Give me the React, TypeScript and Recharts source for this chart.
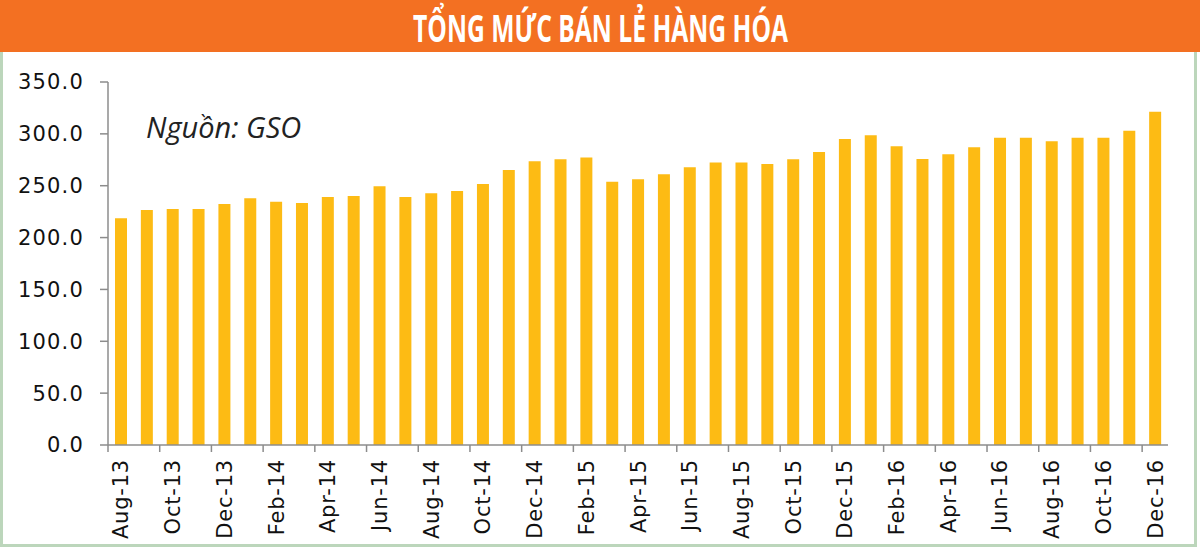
import { BarChart, Bar, XAxis, YAxis } from 'recharts';

const MONTHS = [
  'Aug-13', 'Sep-13', 'Oct-13', 'Nov-13', 'Dec-13',
  'Jan-14', 'Feb-14', 'Mar-14', 'Apr-14', 'May-14', 'Jun-14', 'Jul-14', 'Aug-14', 'Sep-14', 'Oct-14', 'Nov-14', 'Dec-14',
  'Jan-15', 'Feb-15', 'Mar-15', 'Apr-15', 'May-15', 'Jun-15', 'Jul-15', 'Aug-15', 'Sep-15', 'Oct-15', 'Nov-15', 'Dec-15',
  'Jan-16', 'Feb-16', 'Mar-16', 'Apr-16', 'May-16', 'Jun-16', 'Jul-16', 'Aug-16', 'Sep-16', 'Oct-16', 'Nov-16', 'Dec-16',
];

const RETAIL = [
  218.6, 226.6, 227.6, 227.6, 232.4,
  237.9, 234.6, 233.4, 239.2, 240.1, 249.5, 239.2, 242.7, 244.9, 251.7, 265.2, 273.6,
  275.5, 277.1, 253.9, 256.2, 261.0, 267.8, 272.3, 272.3, 271.0, 275.5, 282.5, 295.1,
  298.6, 288.0, 275.8, 280.3, 287.1, 296.3, 296.3, 292.9, 296.3, 296.3, 303.1, 321.4,
];

const Y_TICKS = [0, 50, 100, 150, 200, 250, 300, 350];

const TITLE = 'TỔNG MỨC BÁN LẺ HÀNG HÓA';
const SOURCE = 'Nguồn: GSO';

const data = MONTHS.map((month, i) => ({ month, value: RETAIL[i] }));

const AXIS_GRAY = '#8c8c8c';
const LABEL_FONT = "'DejaVu Sans', Verdana, sans-serif";
const X_TICK_SIZE = 7;
const X_TICK_MARGIN = 7;

// Excel-style category ticks: mark sits on the band boundary, label on the bar
function MonthTick(props: any) {
  const { x, y, payload } = props;
  const half = payload?.offset ?? 0;
  const axisY = y - X_TICK_SIZE - X_TICK_MARGIN;
  return (
    <g>
      <line x1={x - half} x2={x - half} y1={axisY} y2={axisY + X_TICK_SIZE} stroke={AXIS_GRAY} strokeWidth={1.5} />
      <text
        x={x}
        y={y}
        transform={`rotate(-90 ${x} ${y})`}
        textAnchor="end"
        dy="0.36em"
        fontFamily={LABEL_FONT}
        fontSize={21}
        letterSpacing={0.8}
        fill="#111"
      >
        {payload.value}
      </text>
    </g>
  );
}

export default function App() {
  return (
    <div style={{ position: 'absolute', left: 0, top: 0, width: 1200, height: 555, background: '#fff', overflow: 'hidden' }}>
      <div
        style={{
          position: 'absolute', left: 0, top: 0, width: 1191, height: 541,
          border: '3px solid #bcd6bb', boxSizing: 'content-box',
        }}
      />
      <svg width={1200} height={150} style={{ position: 'absolute', left: 0, top: 0 }}>
        <rect x={0} y={0} width={1200} height={52} fill="#f37022" />
        <text
          x={413}
          y={42}
          textLength={375}
          lengthAdjust="spacingAndGlyphs"
          fontFamily="'Open Sans', sans-serif"
          fontWeight={700}
          fontSize={37}
          fill="#fff"
        >
          {TITLE}
        </text>
        <text x={146} y={138} fontFamily="'Open Sans', sans-serif" fontStyle="italic" fontSize={29} fill="#222">
          {SOURCE}
        </text>
      </svg>
      <div style={{ position: 'absolute', left: 0, top: 52 }}>
        <BarChart width={1200} height={493} data={data} margin={{ top: 30, right: 32, left: 0, bottom: 10 }} barSize={12}>
          <XAxis
            dataKey="month"
            interval={1}
            height={90}
            tickLine={false}
            tickSize={X_TICK_SIZE}
            tickMargin={X_TICK_MARGIN}
            tick={<MonthTick />}
            axisLine={{ stroke: AXIS_GRAY, strokeWidth: 1.5 }}
          />
          <YAxis
            width={108}
            domain={[0, 350]}
            ticks={Y_TICKS}
            tickFormatter={(v: number) => v.toFixed(1)}
            tickSize={8}
            tickMargin={16}
            tickLine={{ stroke: AXIS_GRAY, strokeWidth: 1.5 }}
            axisLine={{ stroke: AXIS_GRAY, strokeWidth: 1.5 }}
            tick={{ fill: '#111', fontSize: 21, letterSpacing: 1.2, fontFamily: LABEL_FONT }}
          />
          <Bar dataKey="value" fill="#fdbb14" isAnimationActive={false} />
        </BarChart>
      </div>
    </div>
  );
}
